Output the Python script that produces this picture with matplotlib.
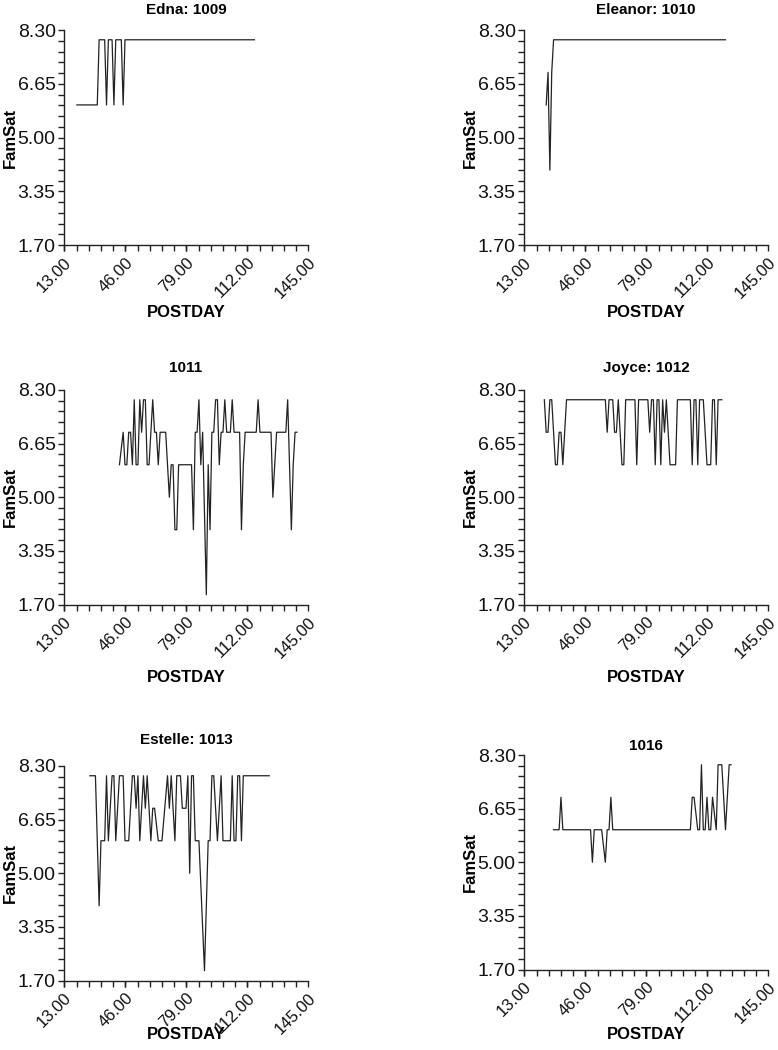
import numpy as np
import matplotlib.pyplot as plt
from matplotlib.ticker import MultipleLocator, FixedLocator

plt.rcParams['font.family'] = ['Liberation Sans', 'DejaVu Sans']

# FamSat per POSTDAY
titles = ["Edna: 1009", "Eleanor: 1010", "1011", "Joyce: 1012", "Estelle: 1013", "1016"]

days_1009 = [20, 31, 32, 35, 36, 37, 39, 40, 41, 44, 45, 46, 116]
fam_1009 = [6, 6, 8, 8, 6, 8, 8, 6, 8, 8, 6, 8, 8]

days_1010 = [25, 26, 27, 28, 29, 122]
fam_1010 = [6, 7, 4, 7, 8, 8]

days_1011 = [43, 45, 46, 47, 48, 49, 50, 51, 52, 53,
             54, 55, 56, 57, 58, 59, 61, 62, 63, 64,
             65, 68, 70, 71, 72, 73, 74, 75, 82, 83,
             84, 85, 86, 87, 88, 90, 91, 92, 93, 94,
             95, 96, 97, 98, 99, 100, 101, 103, 104, 105,
             108, 109, 110, 111, 117, 118, 119, 125, 126, 128,
             133, 134, 136, 137, 138, 139]
fam_1011 = [6, 7, 6, 6, 7, 7, 6, 8, 6, 6,
            8, 7, 8, 8, 6, 6, 8, 7, 7, 6,
            7, 7, 5, 6, 6, 4, 4, 6, 6, 4,
            7, 7, 8, 6, 7, 2, 6, 4, 7, 7,
            8, 8, 6, 7, 7, 8, 7, 7, 8, 7,
            7, 4, 6, 7, 7, 8, 7, 7, 5, 7,
            7, 8, 4, 6, 7, 7]

days_1012 = [24, 25, 26, 27, 28, 30, 31, 32, 33, 34,
             36, 57, 58, 59, 61, 62, 63, 64, 66, 67,
             68, 73, 74, 75, 80, 81, 82, 83, 84, 85,
             86, 87, 88, 89, 90, 92, 95, 96, 103, 104,
             105, 106, 107, 108, 110, 111, 112, 114, 115, 116,
             117, 118, 120]
fam_1012 = [8, 7, 7, 8, 8, 6, 6, 7, 7, 6,
            8, 8, 7, 8, 8, 7, 7, 8, 6, 6,
            8, 8, 6, 8, 8, 7, 8, 8, 6, 8,
            8, 6, 8, 7, 8, 6, 6, 8, 8, 6,
            8, 8, 6, 8, 8, 7, 6, 6, 8, 8,
            6, 8, 8]

days_1013 = [27, 30, 32, 33, 35, 36, 37, 39, 40, 41,
             43, 45, 46, 48, 50, 51, 52, 53, 54, 56,
             57, 58, 60, 61, 62, 64, 66, 69, 70, 71,
             73, 74, 76, 77, 79, 80, 81, 82, 83, 84,
             86, 89, 91, 92, 93, 94, 96, 98, 99, 103,
             104, 105, 106, 107, 108, 109, 110, 124]
fam_1013 = [8, 8, 4, 6, 6, 8, 6, 8, 8, 6,
            8, 8, 6, 6, 8, 8, 7, 8, 6, 8,
            7, 8, 6, 7, 7, 6, 6, 8, 7, 8,
            6, 8, 8, 7, 7, 8, 5, 8, 8, 6,
            6, 2, 6, 6, 8, 8, 6, 8, 6, 6,
            8, 6, 6, 8, 8, 6, 8, 8]

days_1016 = [29, 32, 33, 34, 49, 50, 51, 55, 57, 58,
             59, 60, 61, 103, 104, 105, 107, 108, 109, 110,
             111, 112, 113, 114, 115, 117, 118, 120, 122, 124,
             125]
fam_1016 = [6, 6, 7, 6, 6, 5, 6, 6, 5, 6,
            6, 7, 6, 6, 7, 7, 6, 6, 8, 6,
            6, 7, 6, 6, 7, 6, 8, 8, 6, 8,
            8]

all_days = [days_1009, days_1010, days_1011, days_1012, days_1013, days_1016]
all_fam = [fam_1009, fam_1010, fam_1011, fam_1012, fam_1013, fam_1016]

x_ticks = [13, 46, 79, 112, 145]
y_ticks = [1.70, 3.35, 5.00, 6.65, 8.30]

W, H = 778, 1050
fig = plt.figure(figsize=(W / 100, H / 100), dpi=100)

# axes boxes in pixels: left, right, top, bottom, title gap, xlabel offset
boxes = [
    (64, 308, 30, 245, 16, 60),
    (524, 768, 30, 245, 16, 60),
    (64, 308, 390, 604.5, 18, 65.5),
    (524, 768, 390, 604.5, 18, 65.5),
    (64, 308, 766, 980.5, 22, 46.5),
    (524, 768, 755, 969.5, 5, 57.5),
]

for i, (l, r, t, b, tpad, xoff) in enumerate(boxes):
    ax = fig.add_axes([l / W, 1 - b / H, (r - l) / W, (b - t) / H])
    ax.plot(all_days[i], all_fam[i], color='#222222', lw=0.9)
    ax.set_xlim(13, 145)
    ax.set_ylim(1.70, 8.30)
    ax.spines['top'].set_visible(False)
    ax.spines['right'].set_visible(False)
    for s in ['left', 'bottom']:
        ax.spines[s].set_linewidth(1.0)
        ax.spines[s].set_color('#222222')
    ax.xaxis.set_major_locator(FixedLocator(x_ticks))
    ax.xaxis.set_minor_locator(MultipleLocator(6.6))
    ax.yaxis.set_major_locator(FixedLocator(y_ticks))
    ax.yaxis.set_minor_locator(FixedLocator(np.arange(1.70, 8.31, 0.33)))
    ax.set_xticklabels([f"{v:.2f}" for v in x_ticks], rotation=45, ha='right',
                       va='top', rotation_mode='anchor', fontsize=12)
    ax.set_yticklabels([f"{v:.2f}" for v in y_ticks], fontsize=14)
    ax.tick_params(which='both', direction='out', length=4, width=1,
                   color='#222222', labelcolor='#111111')
    ax.tick_params(axis='x', which='major', pad=3)
    ax.tick_params(axis='y', which='major', pad=2)
    ax.set_title(titles[i], fontsize=11, fontweight='bold', pad=tpad * 0.72)
    ax.set_xlabel("POSTDAY", fontsize=12, fontweight='bold')
    ax.set_ylabel("FamSat", fontsize=12, fontweight='bold')
    ax.xaxis.set_label_coords(0.5, -xoff / (b - t))
    ax.yaxis.set_label_coords(-46 / (r - l), 0.5)

fig.savefig("out.png", dpi=100)
